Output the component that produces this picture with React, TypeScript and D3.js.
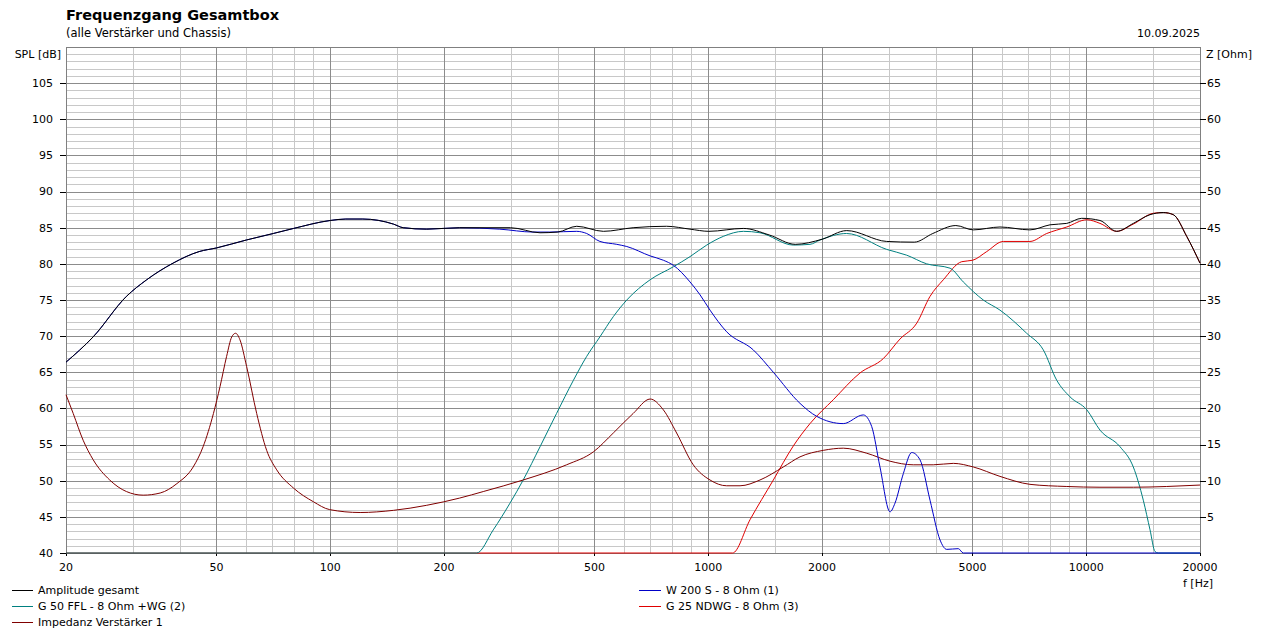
import React from "react";
import * as d3 from "d3";

// ---------- data ----------
const titleText = "Frequenzgang Gesamtbox";
const subtitleText = "(alle Verstärker und Chassis)";
const dateText = "10.09.2025";

const xTickValues = [20, 50, 100, 200, 500, 1000, 2000, 5000, 10000, 20000];
const xMinorGrid = [30, 40, 60, 70, 80, 90, 150, 300, 400, 600, 700, 800, 900, 1500, 3000, 4000, 6000, 7000, 8000, 9000, 15000];
const splTicks = [40, 45, 50, 55, 60, 65, 70, 75, 80, 85, 90, 95, 100, 105];
const zTicks = [5, 10, 15, 20, 25, 30, 35, 40, 45, 50, 55, 60, 65];

// [frequency Hz, SPL dB]
const amplitudeGesamt: [number, number][] = [
  [20, 66.4], [23.6, 69.9], [28.9, 75.5], [32.7, 77.8], [38.4, 80.1], [45, 81.7], [50, 82.2],
  [60, 83.3], [70.7, 84.2], [80, 84.9], [100, 86.0], [110, 86.2], [122, 86.2], [147, 85.5],
  [156, 85.0], [180, 84.8], [220, 85.0], [300, 85.0], [359, 84.3], [400, 84.4], [449, 85.2],
  [528, 84.5], [633, 85.0], [776, 85.2], [895, 84.8], [1004, 84.5], [1239, 84.9], [1450, 84.0],
  [1700, 82.7], [2000, 83.4], [2325, 84.6], [2966, 83.1], [3508, 83.0], [3928, 84.2], [4520, 85.3],
  [5027, 84.7], [5914, 85.1], [7098, 84.7], [8022, 85.4], [8884, 85.6], [9729, 86.3], [10875, 86.0],
  [12041, 84.5], [13322, 85.6], [14750, 86.8], [15993, 87.1], [17003, 86.8], [18446, 83.8], [20000, 80.1],
];

const w200s: [number, number][] = [
  [20, 66.4], [23.6, 69.9], [28.9, 75.5], [32.7, 77.8], [38.4, 80.1], [45, 81.7], [50, 82.2],
  [60, 83.3], [70.7, 84.2], [80, 84.9], [100, 86.0], [110, 86.2], [122, 86.2], [147, 85.5],
  [156, 85.0], [180, 84.8], [220, 85.0], [281, 84.8], [344, 84.4], [381, 84.4], [449, 84.5],
  [477, 84.2], [517, 83.1], [573, 82.7], [609, 82.4], [702, 81.1], [761, 80.5], [809, 79.8],
  [895, 77.5], [952, 75.7], [1011, 73.6], [1119, 70.6], [1316, 68.1], [1487, 65.0], [1749, 60.7],
  [1937, 58.9], [2277, 57.9], [2572, 59.1], [2707, 57.5], [2847, 51.9], [3027, 45.7], [3120, 46.9],
  [3283, 51.0], [3455, 53.9], [3633, 52.9], [3862, 47.3], [4105, 41.8], [4275, 40.5], [4588, 40.6],
  [4729, 40.0], [20000, 40.0],
];

const g50ffl: [number, number][] = [
  [20, 40], [244, 40], [270, 43.2], [299, 46.9], [324, 50.1], [359, 54.7], [397, 59.3], [440, 63.9],
  [477, 67.2], [517, 69.9], [561, 72.7], [609, 75.0], [702, 77.8], [809, 79.6], [895, 81.0],
  [991, 82.6], [1096, 83.8], [1239, 84.5], [1371, 84.3], [1679, 82.6], [1859, 82.7], [1976, 83.3],
  [2323, 84.2], [2966, 82.0], [3350, 81.2], [3784, 80.0], [4363, 79.4], [4729, 77.5], [5342, 75.0],
  [5914, 73.6], [6958, 70.4], [7700, 68.1], [8356, 63.9], [9061, 61.6], [10040, 59.8], [10875, 57.0],
  [12287, 54.7], [13322, 51.9], [14159, 47.3], [14752, 43.2], [15206, 40.2], [15514, 40], [20000, 40],
];

const g25ndwg: [number, number][] = [
  [20, 40], [1160, 40], [1290, 44.6], [1487, 50.1], [1679, 54.8], [1859, 57.9], [2142, 61.2],
  [2520, 64.9], [2906, 66.9], [3216, 69.6], [3562, 71.8], [3862, 75.5], [4188, 77.8], [4684, 80.3],
  [5008, 80.5], [5455, 81.7], [6034, 83.1], [7098, 83.1], [7862, 84.2], [8884, 85.1], [10040, 86.1],
  [10875, 85.6], [12041, 84.5], [13322, 85.5], [15052, 87.0], [15993, 87.1], [17003, 86.8],
  [18446, 83.8], [20000, 80.1],
];

// [frequency Hz, impedance Ohm]
const impedanz: [number, number][] = [
  [20, 21.9], [20.9, 19.3], [22.2, 15.6], [23.6, 12.9], [26.1, 10.1], [28.9, 8.5], [32, 8.0],
  [35.5, 8.3], [39.3, 9.6], [43.4, 11.9], [46.1, 14.7], [49.1, 19.3], [51.1, 23.0], [53.2, 27.2],
  [54.9, 29.9], [56.2, 30.4], [57.7, 29.5], [60.1, 25.8], [63.9, 19.3], [67.9, 14.2], [72.2, 11.5],
  [79.9, 9.0], [90.2, 7.1], [99.7, 6.0], [120, 5.6], [147, 5.9], [180, 6.6], [220, 7.6], [254, 8.5],
  [324, 10.1], [422, 12.2], [497, 14.0], [561, 16.6], [633, 19.3], [702, 21.3], [761, 19.8],
  [825, 16.6], [913, 12.2], [1011, 10.1], [1119, 9.3], [1214, 9.3], [1371, 10.1], [1580, 11.9],
  [1749, 13.3], [2016, 14.2], [2277, 14.5], [2627, 13.8], [3027, 12.7], [3488, 12.2], [3939, 12.2],
  [4451, 12.4], [5027, 11.9], [5914, 10.6], [7098, 9.5], [8884, 9.2], [10875, 9.1], [13322, 9.1],
  [16329, 9.2], [20000, 9.4],
];

const legendLeft = [
  { label: "Amplitude gesamt", color: "#000000" },
  { label: "G 50 FFL - 8 Ohm +WG (2)", color: "#008080" },
  { label: "Impedanz Verstärker 1", color: "#800000" },
];
const legendRight = [
  { label: "W 200 S - 8 Ohm (1)", color: "#0000C8" },
  { label: "G 25 NDWG - 8 Ohm (3)", color: "#E00000" },
];

// ---------- layout ----------
const W = 1265;
const H = 633;
const left = 66;
const right = 1200;
const top = 47;
const bottom = 553;
const FONT = "DejaVu Sans, Verdana, sans-serif";

export default function App() {
  const x = d3.scaleLog().domain([20, 20000]).range([left, right]);
  const y = d3.scaleLinear().domain([40, 110]).range([bottom, top]).clamp(true);
  const z = d3.scaleLinear().domain([0, 70]).range([bottom, top]).clamp(true);

  const lineSpl = d3
    .line<[number, number]>()
    .x((d) => x(d[0]))
    .y((d) => y(d[1]))
    .curve(d3.curveMonotoneX);
  const lineZ = d3
    .line<[number, number]>()
    .x((d) => x(d[0]))
    .y((d) => z(d[1]))
    .curve(d3.curveMonotoneX);

  const hMinor = d3.range(41, 110, 1).filter((v) => v % 5 !== 0);
  const hMajor = d3.range(45, 110, 5);
  const r = (v: number) => Math.round(v) + 0.5;

  return (
    <svg
      width={W}
      height={H}
      style={{ position: "absolute", left: 0, top: 0, background: "#fff" }}
      fontFamily={FONT}
    >
      <rect x={0} y={0} width={W} height={H} fill="#ffffff" />
      {/* titles */}
      <text x={66} y={20} fontSize={14.5} fontWeight="bold" fill="#000">{titleText}</text>
      <text x={66} y={37} fontSize={11.5} fill="#000">{subtitleText}</text>
      <text x={1200} y={37} fontSize={11} fill="#000" textAnchor="end">{dateText}</text>
      <text x={61} y={58} fontSize={11} fill="#000" textAnchor="end">SPL [dB]</text>
      <text x={1206} y={58} fontSize={11} fill="#000">Z [Ohm]</text>

      {/* grid */}
      <g shapeRendering="crispEdges">
        {hMinor.map((v) => (
          <line key={"hm" + v} x1={left} x2={right} y1={r(y(v))} y2={r(y(v))} stroke="#c8c8c8" />
        ))}
        {xMinorGrid.map((f) => (
          <line key={"vm" + f} x1={r(x(f))} x2={r(x(f))} y1={top} y2={bottom} stroke="#c8c8c8" />
        ))}
        {hMajor.map((v) => (
          <line key={"hM" + v} x1={left} x2={right} y1={r(y(v))} y2={r(y(v))} stroke="#8c8c8c" />
        ))}
        {xTickValues.slice(1, -1).map((f) => (
          <line key={"vM" + f} x1={r(x(f))} x2={r(x(f))} y1={top} y2={bottom} stroke="#8c8c8c" />
        ))}
        <rect x={left + 0.5} y={top + 0.5} width={right - left} height={bottom - top} fill="none" stroke="#808080" />
        {/* ticks */}
        {splTicks.map((v) => (
          <line key={"lt" + v} x1={left - 6} x2={left} y1={r(y(v))} y2={r(y(v))} stroke="#000" />
        ))}
        {zTicks.map((v) => (
          <line key={"rt" + v} x1={right} x2={right + 6} y1={r(z(v))} y2={r(z(v))} stroke="#000" />
        ))}
        {xTickValues.map((f) => (
          <line key={"bt" + f} x1={r(x(f))} x2={r(x(f))} y1={bottom} y2={bottom + 3} stroke="#000" />
        ))}
      </g>

      {/* axis labels */}
      {splTicks.map((v) => (
        <text key={"ll" + v} x={53} y={y(v)} dy="0.35em" fontSize={11} textAnchor="end" fill="#000">{v}</text>
      ))}
      {zTicks.map((v) => (
        <text key={"rl" + v} x={1207} y={z(v)} dy="0.35em" fontSize={11} fill="#000">{v}</text>
      ))}
      {xTickValues.map((f) => (
        <text key={"xl" + f} x={x(f)} y={571} fontSize={11} textAnchor="middle" fill="#000">{f}</text>
      ))}
      <text x={1183} y={587} fontSize={11} fill="#000">f [Hz]</text>

      {/* curves */}
      <g fill="none" strokeWidth={1}>
        <path d={lineSpl(g25ndwg) || ""} stroke="#E00000" />
        <path d={lineSpl(g50ffl) || ""} stroke="#008080" />
        <path d={lineZ(impedanz) || ""} stroke="#800000" />
        <path d={lineSpl(w200s) || ""} stroke="#0000C8" />
        <path d={lineSpl(amplitudeGesamt) || ""} stroke="#000000" />
      </g>

      {/* legend */}
      {legendLeft.map((d, i) => (
        <g key={d.label}>
          <line x1={12} x2={33} y1={590.5 + i * 16} y2={590.5 + i * 16} stroke={d.color} shapeRendering="crispEdges" />
          <text x={38} y={590 + i * 16} dy="0.35em" fontSize={11} fill="#000">{d.label}</text>
        </g>
      ))}
      {legendRight.map((d, i) => (
        <g key={d.label}>
          <line x1={639} x2={661} y1={590.5 + i * 16} y2={590.5 + i * 16} stroke={d.color} shapeRendering="crispEdges" />
          <text x={666} y={590 + i * 16} dy="0.35em" fontSize={11} fill="#000">{d.label}</text>
        </g>
      ))}
    </svg>
  );
}
